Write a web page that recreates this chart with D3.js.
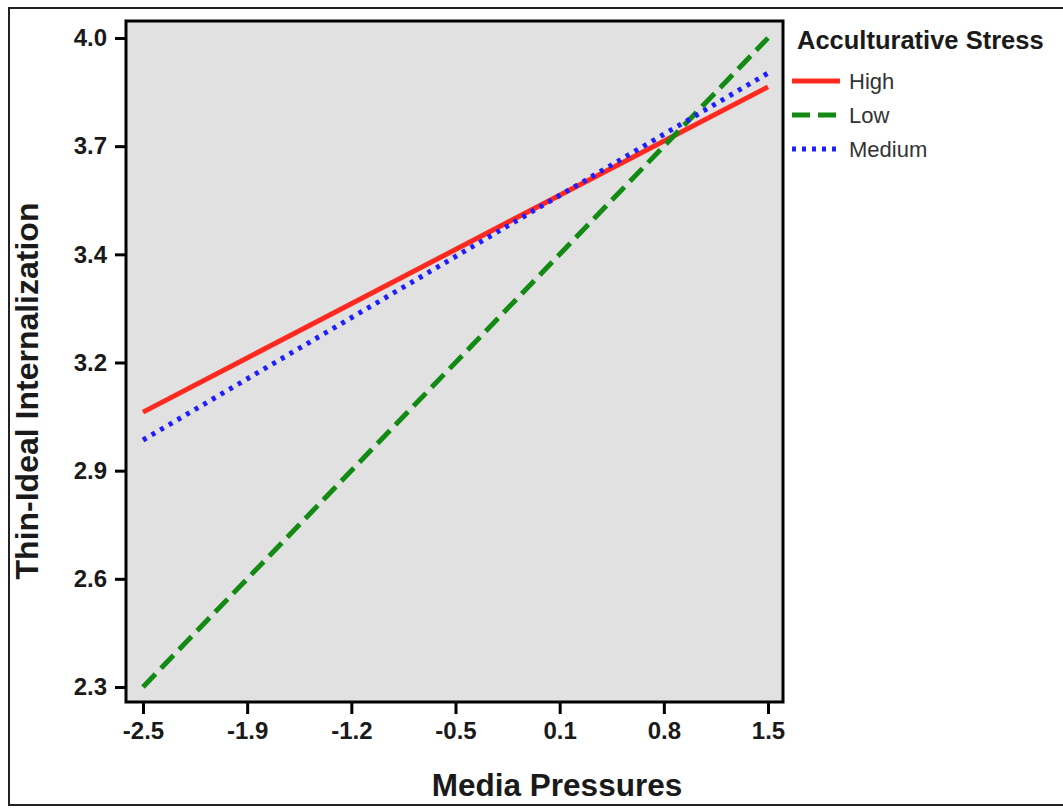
<!DOCTYPE html>
<html>
  <head>
    <script src="https://d3js.org/d3.v7.min.js"></script>
    <style>
      body { margin: 0; background: #fff; }
      text { font-family: "Liberation Sans", Arial, sans-serif; }
      .axis text { font-size: 24px; font-weight: bold; fill: #1a1a1a; }
      .axis line { stroke: #000; stroke-width: 3; }
    </style>
  </head>
  <body>
    <svg width="1063" height="808"></svg>
    <script>
      // data: line endpoints per stress level
      const xValues = [-2.5, 1.5];
      const series = ["High", "Low", "Medium"];
      const highValues = [3.02, 3.872];
      const lowValues = [2.30, 4.00];
      const mediumValues = [2.947, 3.908];

      const xTickLabels = ["-2.5", "-1.9", "-1.2", "-0.5", "0.1", "0.8", "1.5"];
      const yTickLabels = ["2.3", "2.6", "2.9", "3.2", "3.4", "3.7", "4.0"];

      const svg = d3.select("svg");

      // outer border
      svg.append("rect")
        .attr("x", 9).attr("y", 8)
        .attr("width", 1060).attr("height", 797)
        .attr("fill", "none")
        .attr("stroke", "#222")
        .attr("stroke-width", 2);

      const x = d3.scaleLinear().domain([-2.5, 1.5]).range([143, 768]);
      const y = d3.scaleLinear().domain([2.3, 4.0]).range([687, 38]);

      // plot panel
      svg.append("rect")
        .attr("x", 126).attr("y", 21)
        .attr("width", 783 - 126).attr("height", 702 - 21)
        .attr("fill", "#e1e1e1");

      // ticks are evenly spaced, labels are the rounded values shown in the chart
      const xTicks = d3.range(xTickLabels.length).map(i => x.invert(x.range()[0] + i * (x.range()[1] - x.range()[0]) / (xTickLabels.length - 1)));
      const yTicks = d3.range(yTickLabels.length).map(i => y.invert(y.range()[0] + i * (y.range()[1] - y.range()[0]) / (yTickLabels.length - 1)));

      const xAxis = d3.axisBottom(x)
        .tickValues(xTicks)
        .tickSize(12)
        .tickPadding(8)
        .tickFormat((d, i) => xTickLabels[i]);

      const yAxis = d3.axisLeft(y)
        .tickValues(yTicks)
        .tickSize(11)
        .tickPadding(8)
        .tickFormat((d, i) => yTickLabels[i]);

      svg.append("g")
        .attr("class", "x axis")
        .attr("transform", "translate(0,702)")
        .call(xAxis)
        .call(g => g.select(".domain").remove());

      svg.append("g")
        .attr("class", "y axis")
        .attr("transform", "translate(126,0)")
        .call(yAxis)
        .call(g => g.select(".domain").remove());

      // lines
      const styles = {
        High:   { color: "#ff2a1f", dash: null },
        Low:    { color: "#138a13", dash: "18,8" },
        Medium: { color: "#1e1eff", dash: "4,6" }
      };
      const values = { High: highValues, Low: lowValues, Medium: mediumValues };

      const line = d3.line()
        .x(d => x(d[0]))
        .y(d => y(d[1]));

      series.forEach(s => {
        svg.append("path")
          .datum(xValues.map((v, i) => [v, values[s][i]]))
          .attr("d", line)
          .attr("fill", "none")
          .attr("stroke", styles[s].color)
          .attr("stroke-width", 5)
          .attr("stroke-dasharray", styles[s].dash);
      });

      // frame on top
      svg.append("rect")
        .attr("x", 126).attr("y", 21)
        .attr("width", 783 - 126).attr("height", 702 - 21)
        .attr("fill", "none")
        .attr("stroke", "#000")
        .attr("stroke-width", 3);

      // axis titles
      svg.append("text")
        .attr("x", 557).attr("y", 796)
        .attr("text-anchor", "middle")
        .style("font-size", "31.5px")
        .style("font-weight", "bold")
        .attr("fill", "#1a1a1a")
        .text("Media Pressures");

      svg.append("text")
        .attr("transform", "translate(38,391) rotate(-90)")
        .attr("text-anchor", "middle")
        .style("font-size", "32px")
        .style("font-weight", "bold")
        .attr("fill", "#1a1a1a")
        .text("Thin-Ideal Internalization");

      // legend
      svg.append("text")
        .attr("x", 797).attr("y", 49)
        .style("font-size", "25.5px")
        .style("font-weight", "bold")
        .attr("fill", "#1a1a1a")
        .text("Acculturative Stress");

      const legendY = d3.scalePoint().domain(series).range([81, 149]);

      const legend = svg.selectAll(".legend-item")
        .data(series)
        .enter().append("g")
        .attr("class", "legend-item")
        .attr("transform", d => `translate(0,${legendY(d)})`);

      legend.append("line")
        .attr("x1", 792).attr("x2", 840)
        .attr("y1", 0).attr("y2", 0)
        .attr("stroke", d => styles[d].color)
        .attr("stroke-width", 5)
        .attr("stroke-dasharray", d => styles[d].dash);

      legend.append("text")
        .attr("x", 849).attr("y", 8)
        .style("font-size", "22px")
        .attr("fill", "#333")
        .text(d => d);
    </script>
  </body>
</html>
